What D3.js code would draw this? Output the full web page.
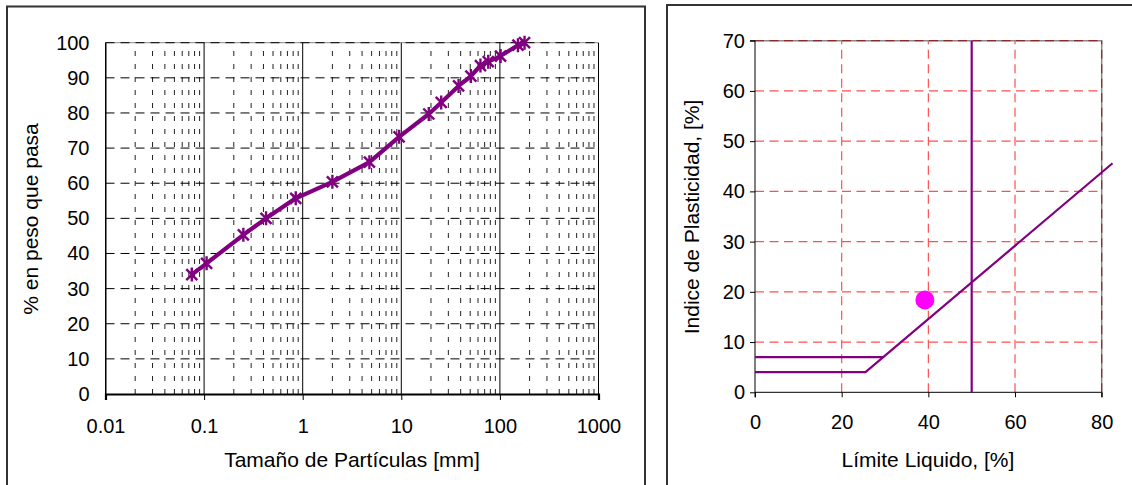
<!DOCTYPE html>
<html>
<head>
<meta charset="utf-8">
<script src="https://cdn.jsdelivr.net/npm/d3@7"></script>
<style>
  body { margin: 0; background: #fff; }
  svg { display: block; font-family: "Liberation Sans", Arial, sans-serif; }
</style>
</head>
<body>
<svg id="chart" width="1132" height="485"></svg>
<script>
// Curva granulometrica: tamaño de tamiz [mm] y % que pasa
const sizes = [0.075, 0.106, 0.25, 0.425, 0.85, 2.0, 4.75, 9.5, 19.0, 25.4, 38.1, 50.8, 63.5, 76.2, 101.6, 152.4, 177.8];
const passing = [34, 37.2, 45.3, 50, 55.7, 60.4, 66, 73.2, 79.7, 83, 87.7, 90.5, 93.5, 94.6, 96.2, 99.3, 100];
const sizeTicks = [0.01, 0.1, 1, 10, 100, 1000];
const passTicks = [0, 10, 20, 30, 40, 50, 60, 70, 80, 90, 100];

// Carta de plasticidad
const llTicks = [0, 20, 40, 60, 80];
const piTicks = [0, 10, 20, 30, 40, 50, 60, 70];
const aLineLL = [0, 25.5, 82.5];
const aLinePI = [4, 4, 45.6];
const upperLL = [0, 29.6];
const upperPI = [7, 7];
const limitLL = [50, 50];
const limitPI = [0, 70];
const sampleLL = [39.2];
const samplePI = [18.4];

const purple = "#800080";
const svg = d3.select("#chart");

// outer frames (bottom edges fall outside the picture)
svg.append("rect").attr("x", 7).attr("y", 6.5).attr("width", 638).attr("height", 520)
  .attr("fill", "none").attr("stroke", "#333").attr("stroke-width", 2);
svg.append("rect").attr("x", 667).attr("y", 5).attr("width", 520).attr("height", 520)
  .attr("fill", "none").attr("stroke", "#333").attr("stroke-width", 2);

// ---------- left chart ----------
const x1 = d3.scaleLog().domain([0.01, 1000]).range([105.5, 598.5]);
const y1 = d3.scaleLinear().domain([0, 100]).range([394, 42.7]);
const g1 = svg.append("g");

// minor vertical grid (2..9 of each decade)
const minor = x1.ticks().filter(v => !sizeTicks.some(t => Math.abs(t - v) / t < 1e-6));
g1.selectAll("line.minor").data(minor).join("line")
  .attr("x1", d => x1(d)).attr("x2", d => x1(d))
  .attr("y1", y1(0)).attr("y2", y1(100))
  .attr("stroke", "#222").attr("stroke-width", 1).attr("stroke-dasharray", "5,8");

// horizontal grid
g1.append("line").attr("x1", x1(0.01)).attr("x2", x1(1000)).attr("y1", y1(100)).attr("y2", y1(100))
  .attr("stroke", "#888").attr("stroke-width", 1);
g1.selectAll("line.hgrid").data(passTicks.filter(d => d > 0)).join("line")
  .attr("x1", x1(0.01)).attr("x2", x1(1000))
  .attr("y1", d => y1(d)).attr("y2", d => y1(d))
  .attr("stroke", "#000").attr("stroke-width", 1).attr("stroke-dasharray", "9,6");

// decade lines
g1.selectAll("line.major").data(sizeTicks).join("line")
  .attr("x1", d => x1(d)).attr("x2", d => x1(d))
  .attr("y1", y1(0)).attr("y2", y1(100))
  .attr("stroke", "#000").attr("stroke-width", 1);

// axes
const ax1 = g1.append("g").attr("transform", `translate(0,${y1(0)})`)
  .call(d3.axisBottom(x1).tickValues(sizeTicks).tickFormat(d => String(d)).tickSize(6).tickPadding(19));
ax1.select(".domain").attr("stroke-width", 2.2);
const ay1 = g1.append("g").attr("transform", `translate(${x1(0.01)},0)`)
  .call(d3.axisLeft(y1).tickValues(passTicks).tickSize(0).tickPadding(16));

// data line
const line1 = d3.line().x((d, i) => x1(sizes[i])).y(d => y1(d));
g1.append("path").datum(passing).attr("d", line1)
  .attr("fill", "none").attr("stroke", purple).attr("stroke-width", 4.2).attr("stroke-linejoin", "round");
g1.selectAll("path.mk").data(passing).join("path")
  .attr("transform", (d, i) => `translate(${x1(sizes[i])},${y1(d)})`)
  .attr("d", "M-5.5,-5.5L5.5,5.5M-5.5,5.5L5.5,-5.5M0,-7L0,7")
  .attr("stroke", purple).attr("stroke-width", 2.4).attr("fill", "none");

g1.append("text").attr("x", 352).attr("y", 461).attr("text-anchor", "middle")
  .attr("dominant-baseline", "middle").attr("font-size", 21).text("Tamaño de Partículas [mm]");
g1.append("text").attr("transform", "translate(32.5,219) rotate(-90)").attr("text-anchor", "middle")
  .attr("dominant-baseline", "middle").attr("font-size", 21).text("% en peso que pasa");

// ---------- right chart ----------
const x2 = d3.scaleLinear().domain([0, 80]).range([755, 1101.7]);
const y2 = d3.scaleLinear().domain([0, 70]).range([392.3, 40.7]);
const g2 = svg.append("g");

g2.append("path")
  .attr("d", `M${x2(0)},${y2(70)}L${x2(80)},${y2(70)}L${x2(80)},${y2(0)}`)
  .attr("fill", "none").attr("stroke", "#888").attr("stroke-width", 1.5);
g2.selectAll("line.hg").data(piTicks.filter(d => d > 0)).join("line")
  .attr("x1", x2(0)).attr("x2", x2(80)).attr("y1", d => y2(d)).attr("y2", d => y2(d))
  .attr("stroke", d => d === 70 ? "#8a2a2a" : "#ff5050").attr("stroke-width", 1.2)
  .attr("stroke-dasharray", "9,5.5");
g2.selectAll("line.vg").data(llTicks.filter(d => d > 0)).join("line")
  .attr("x1", d => x2(d)).attr("x2", d => x2(d)).attr("y1", y2(0)).attr("y2", y2(70))
  .attr("stroke", d => d === 80 ? "#8a2a2a" : "#ff5050").attr("stroke-width", 1.2)
  .attr("stroke-dasharray", "9,5.5");

const ax2 = g2.append("g").attr("transform", `translate(0,${y2(0)})`)
  .call(d3.axisBottom(x2).tickValues(llTicks).tickSize(5).tickPadding(18));
const ay2 = g2.append("g").attr("transform", `translate(${x2(0)},0)`)
  .call(d3.axisLeft(y2).tickValues(piTicks).tickSize(5).tickPadding(5));

[ax1, ay1, ax2, ay2].forEach(a => {
  a.selectAll("text").attr("font-size", 20).attr("fill", "#000")
    .attr("font-family", "'Liberation Sans', Arial, sans-serif");
  a.selectAll("line").attr("stroke", "#000");
  a.select(".domain").attr("stroke", "#000");
});
ay2.select(".domain").attr("d", `M-5,${y2(70)}H0V${y2(0)}`);
ax2.select(".domain").attr("d", `M${x2(0)},5V0H${x2(80)}V5`);

const lineP = (xs, ys) => d3.line().x((d, i) => x2(xs[i])).y(d => y2(d))(ys);
[[aLineLL, aLinePI], [upperLL, upperPI], [limitLL, limitPI]].forEach(([xs, ys]) => {
  g2.append("path").attr("d", lineP(xs, ys))
    .attr("fill", "none").attr("stroke", purple).attr("stroke-width", 2.2);
});
g2.selectAll("circle").data(samplePI).join("circle")
  .attr("cx", (d, i) => x2(sampleLL[i])).attr("cy", d => y2(d)).attr("r", 9.5)
  .attr("fill", "#ff00ff");

g2.append("text").attr("x", 928).attr("y", 461).attr("text-anchor", "middle")
  .attr("dominant-baseline", "middle").attr("font-size", 21).text("Límite Liquido, [%]");
g2.append("text").attr("transform", "translate(693,217) rotate(-90)").attr("text-anchor", "middle")
  .attr("dominant-baseline", "middle").attr("font-size", 21).text("Indice de Plasticidad, [%]");
</script>
</body>
</html>
